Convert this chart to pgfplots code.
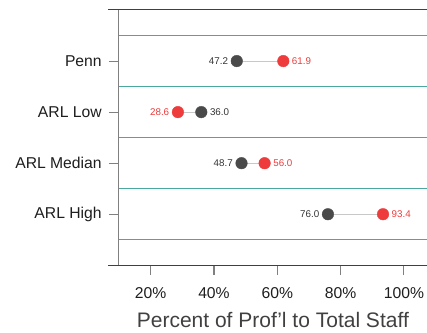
\documentclass[border=0pt]{standalone}
\usepackage{pgfplots}
\pgfplotsset{compat=1.18}
\usepackage{fontspec}
\setmainfont{Liberation Sans}
\definecolor{dotgray}{HTML}{4A4A4A}
\definecolor{dotred}{HTML}{EE3B3B}
\definecolor{tealline}{HTML}{4AA89E}
\definecolor{conn}{HTML}{C8C8C8}
\definecolor{axgray}{HTML}{808080}
\definecolor{axdark}{HTML}{404040}
\definecolor{txt}{HTML}{1E1E1E}
\definecolor{lblgray}{HTML}{333333}

\pgfplotstableread{
x y lab
47.2 4 47.2
48.7 2 48.7
76.0 1 76.0
}\grayleft
\pgfplotstableread{
x y lab
36.0 3 36.0
}\grayright
\pgfplotstableread{
x y lab
28.6 3 28.6
}\redleft
\pgfplotstableread{
x y lab
61.9 4 61.9
56.0 2 56.0
93.4 1 93.4
}\redright

\begin{document}
\begin{tikzpicture}
\begin{axis}[
  name=ax,
  scale only axis,
  width=308.3bp, height=255.3bp,
  xmin=9.9, xmax=107.3, ymin=0, ymax=5,
  axis line style={draw=none},
  xtick={20,40,60,80,100},
  xticklabels={20\%,40\%,60\%,80\%,100\%},
  ytick={1,2,3,4},
  yticklabels={ARL High, ARL Median, ARL Low, Penn},
  xtick pos=lower, ytick pos=left,
  tick align=outside,
  major tick length=9.5bp,
  tick style={draw=axgray, line width=1.1bp},
  ticklabel style={font=\fontsize{15.7bp}{18bp}\selectfont, text=txt},
  yticklabel style={xshift=-4bp},
  xticklabel style={yshift=-9bp},
  extra y ticks={0.5,1.5,2.5,3.5,4.5},
  extra y tick labels={},
  extra y tick style={grid=major, major tick length=0pt, major grid style={draw=tealline, line width=1.2bp}},
  xlabel={Percent of Prof’l to Total Staff},
  xlabel style={font=\fontsize{21bp}{25bp}\selectfont, text=axdark, yshift=-7bp},
  clip=false,
]
\draw[axgray, line width=1.4bp] (rel axis cs:0,0) -- (rel axis cs:0,1);
\draw[axdark, line width=1bp] ([xshift=-10.5bp]rel axis cs:0,1) -- (rel axis cs:1,1);
\draw[axdark, line width=1bp] ([xshift=-10.5bp]rel axis cs:0,0) -- (rel axis cs:1,0);

\addplot[conn, line width=1bp] coordinates {(47.2,4) (61.9,4)};
\addplot[conn, line width=1bp] coordinates {(28.6,3) (36.0,3)};
\addplot[conn, line width=1bp] coordinates {(48.7,2) (56.0,2)};
\addplot[conn, line width=1bp] coordinates {(76.0,1) (93.4,1)};

\addplot[only marks, mark=*, mark size=5.8bp, draw=dotgray, fill=dotgray] coordinates {(47.2,4) (36.0,3) (48.7,2) (76.0,1)};
\addplot[only marks, mark=*, mark size=5.8bp, draw=dotred, fill=dotred] coordinates {(61.9,4) (28.6,3) (56.0,2) (93.4,1)};

\addplot[draw=none, mark=none, point meta=explicit symbolic, nodes near coords,
  every node near coord/.append style={anchor=east, xshift=-8.5bp, inner sep=0pt, font=\fontsize{9.8bp}{11bp}\selectfont, text=lblgray}]
  table[x=x, y=y, meta=lab] {\grayleft};
\addplot[draw=none, mark=none, point meta=explicit symbolic, nodes near coords,
  every node near coord/.append style={anchor=west, xshift=8.5bp, inner sep=0pt, font=\fontsize{9.8bp}{11bp}\selectfont, text=lblgray}]
  table[x=x, y=y, meta=lab] {\grayright};
\addplot[draw=none, mark=none, point meta=explicit symbolic, nodes near coords,
  every node near coord/.append style={anchor=east, xshift=-8.5bp, inner sep=0pt, font=\fontsize{9.8bp}{11bp}\selectfont, text=dotred}]
  table[x=x, y=y, meta=lab] {\redleft};
\addplot[draw=none, mark=none, point meta=explicit symbolic, nodes near coords,
  every node near coord/.append style={anchor=west, xshift=8.5bp, inner sep=0pt, font=\fontsize{9.8bp}{11bp}\selectfont, text=dotred}]
  table[x=x, y=y, meta=lab] {\redright};
\end{axis}
\pgfresetboundingbox
\path[use as bounding box] ([shift={(-118.7bp,-67.7bp)}]ax.south west) rectangle ([shift={(0bp,10bp)}]ax.north east);
\end{tikzpicture}
\end{document}
